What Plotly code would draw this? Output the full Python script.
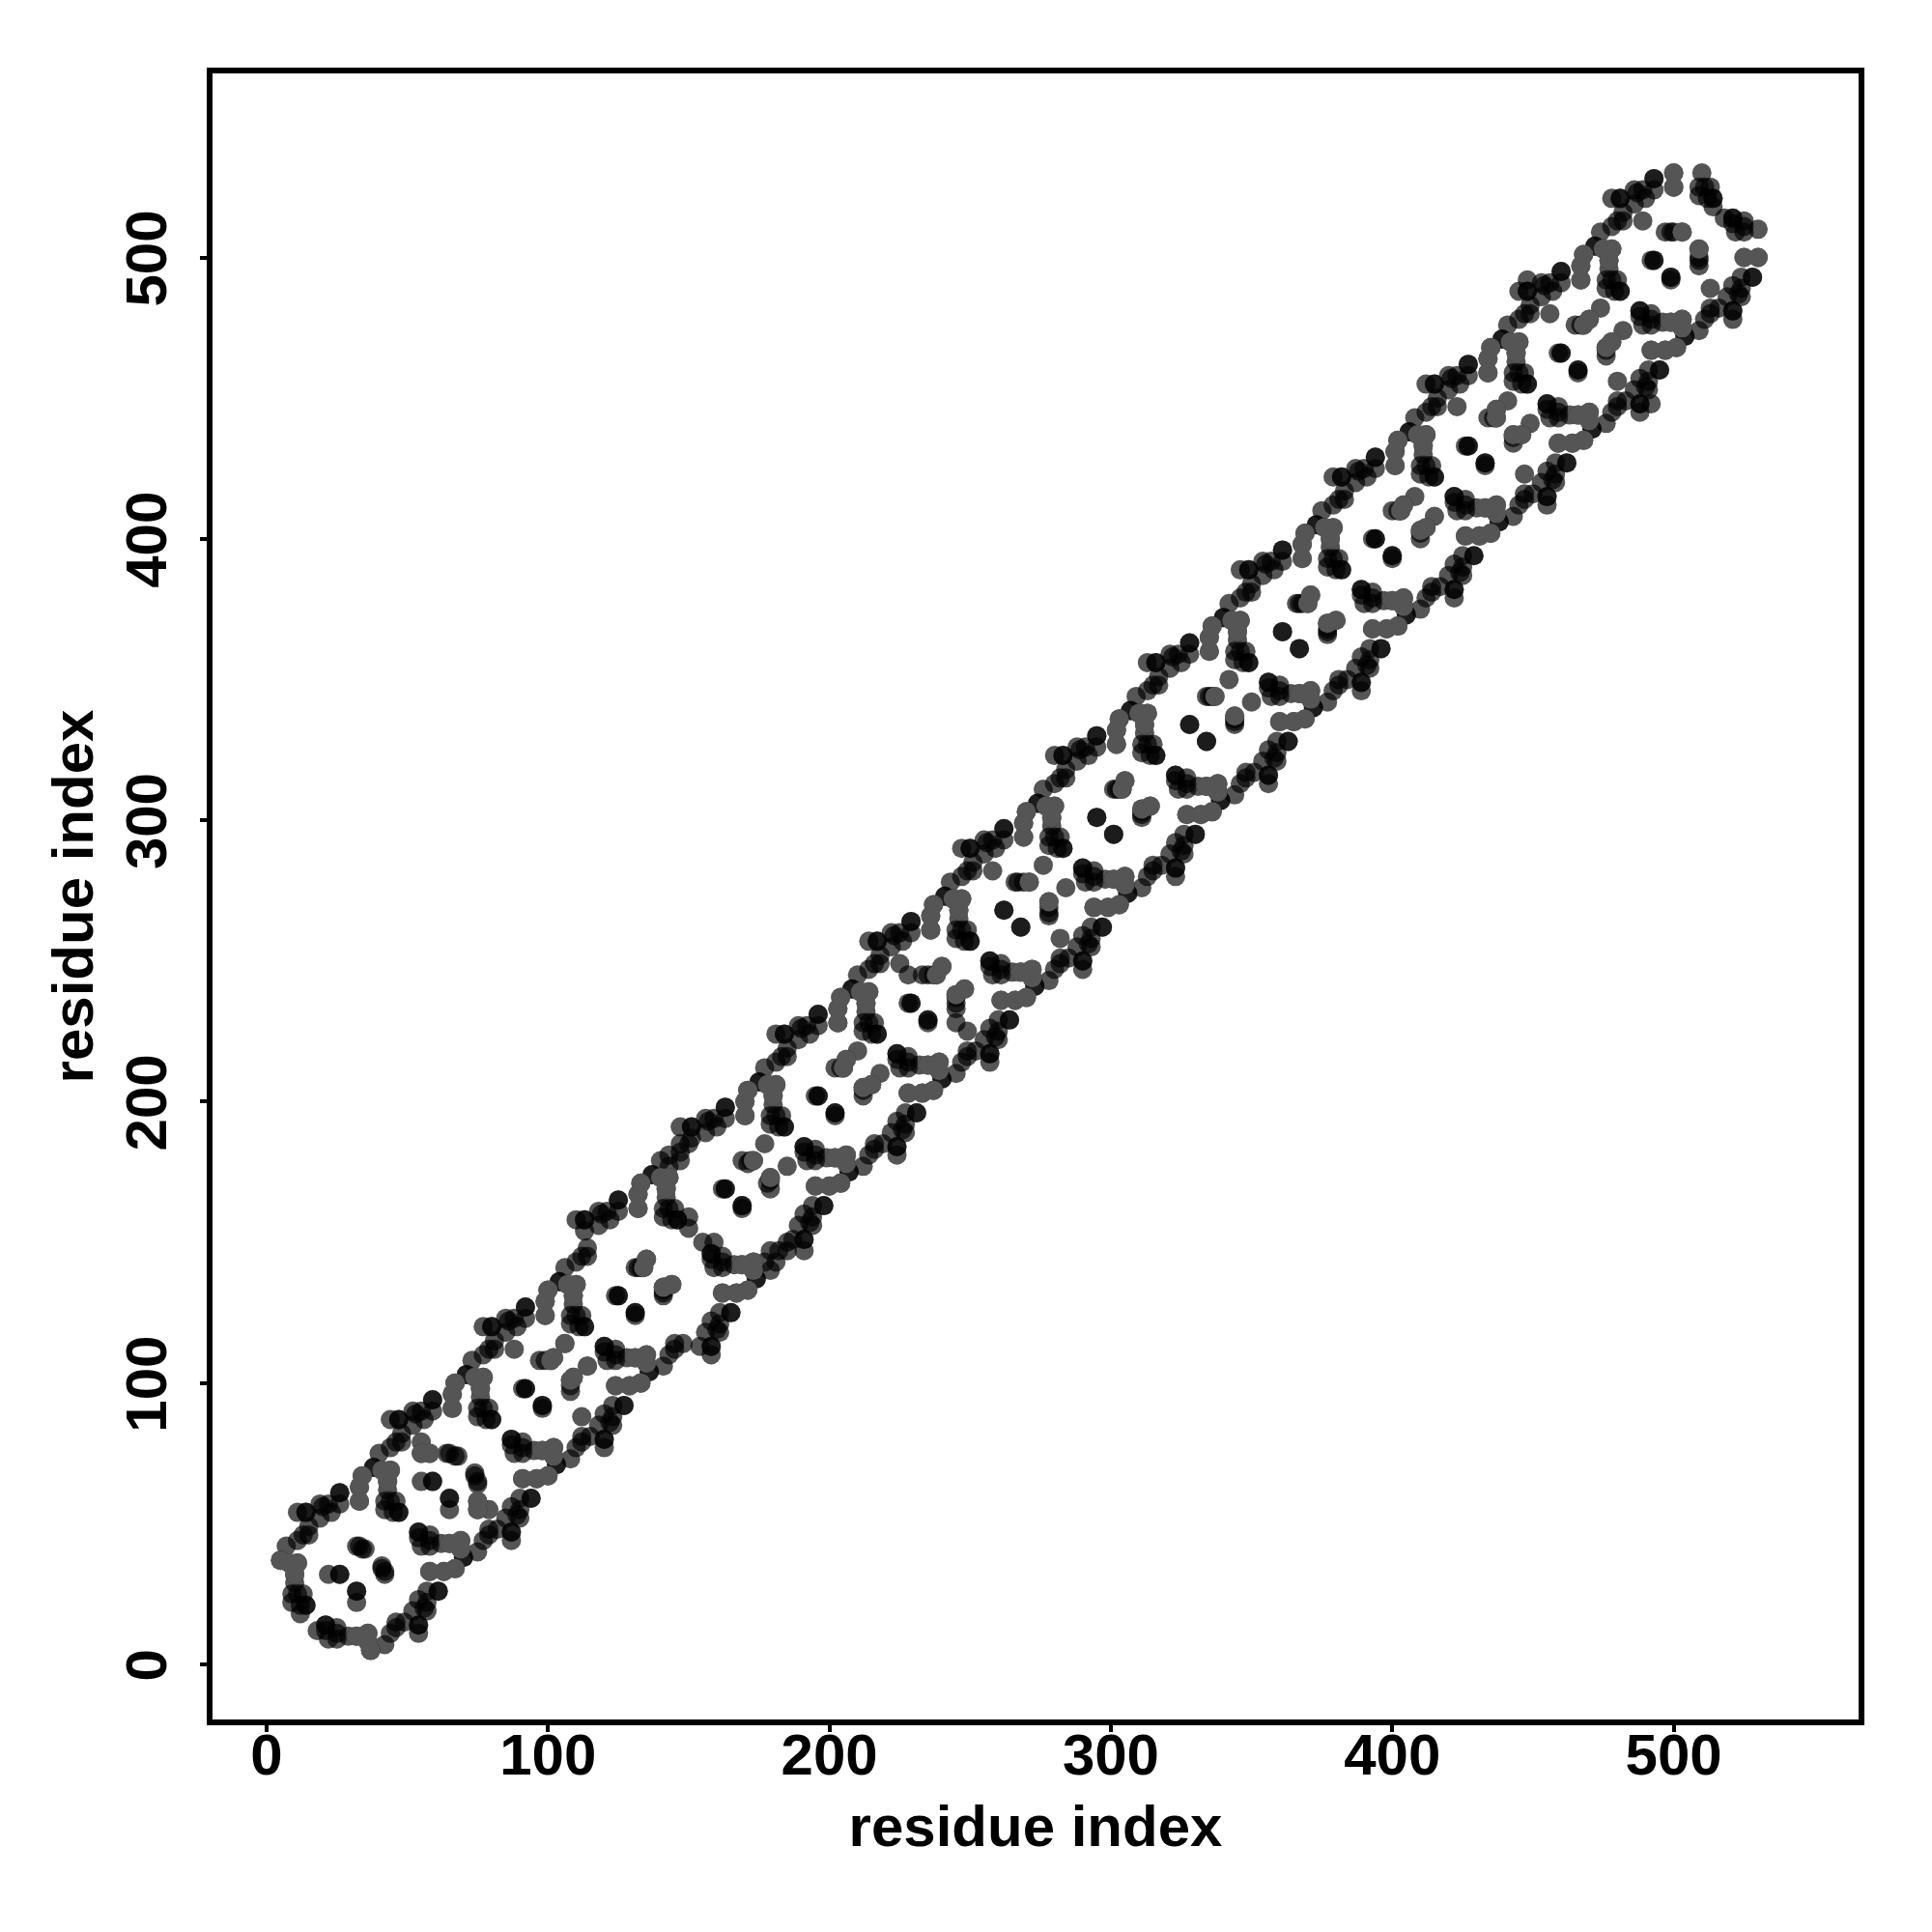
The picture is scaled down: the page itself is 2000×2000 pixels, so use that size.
import plotly.graph_objects as go

# Residue contacts: (i, j) with i < j. The map is symmetric, the mirror is drawn too.
ring_029_i = [5,5,8,11,10,10,9,11,13,14,14,9,12,12]
ring_029_j = [37,37,36,36,32,29,25,25,25,21,21,22,21,18]
ring_062_i = [7,11,13,15,15,11,14,14,19,19,20,22,23,26,26,26,33,33,34,38,38,41,44,43,43,42,44,46,47,47,42,45]
ring_062_j = [42,44,46,46,49,54,54,54,52,57,56,57,54,61,61,57,58,63,67,70,70,69,69,65,62,58,58,58,54,54,55,54]
ring_095_i = [40,44,46,48,48,44,47,47,52,52,53,55,56,59,59,59,66,66,67,71,71,74,77,76,76,75,77,79,80,80,75,78]
ring_095_j = [75,77,79,79,82,87,87,87,85,90,89,90,87,94,94,90,91,96,100,103,103,102,102,98,95,91,91,91,87,87,88,87]
ring_128_i = [73,77,79,81,81,77,80,80,85,85,86,88,89,92,92,92,99,99,100,104,104,107,110,109,109,108,110,112,113,113,108,111]
ring_128_j = [108,110,112,112,115,120,120,120,118,123,122,123,120,127,127,123,124,129,133,136,136,135,135,131,128,124,124,124,120,120,121,120]
ring_166_i = [106,110,112,114,114,113,110,113,113,118,118,119,121,122,125,125,125,132,132,133,137,137,140,143,142,142,141,143,145,146,146,141,144,150,150]
ring_166_j = [141,143,145,145,148,154,158,158,158,156,161,160,161,158,165,165,161,162,167,171,174,174,173,173,169,166,162,162,162,158,158,159,158,159,155]
ring_199_i = [140,143,143,147,147,147,150,151,147,151,151,156,156,157,159,160,163,163,163,170,170,171,175,175,178,181,180,180,179,181,183,184,184,179,182]
ring_199_j = [179,181,177,179,182,185,185,187,191,191,191,189,194,193,194,191,198,198,194,195,200,204,207,207,206,206,202,199,195,195,195,191,191,192,191]
ring_232_i = [177,181,183,185,185,181,184,184,189,189,190,192,193,196,196,196,203,203,204,208,208,211,214,213,213,212,214,216,217,217,212,215]
ring_232_j = [212,214,216,216,219,224,224,224,222,227,226,227,224,231,231,227,228,233,237,240,240,239,239,235,232,228,228,228,224,224,225,224]
ring_265_i = [210,214,216,218,218,214,217,217,222,222,223,225,226,229,229,229,236,236,237,241,241,244,247,246,246,245,247,249,250,250,245,248]
ring_265_j = [245,247,249,249,252,257,257,257,255,260,259,260,257,264,264,260,261,266,270,273,273,272,272,268,265,261,261,261,257,257,258,257]
ring_298_i = [243,247,249,251,251,247,250,250,255,255,256,258,259,262,262,262,269,269,270,274,274,277,280,279,279,278,280,282,283,283,278,281]
ring_298_j = [278,280,282,282,285,290,290,290,288,293,292,293,290,297,297,293,294,299,303,306,306,305,305,301,298,294,294,294,290,290,291,290]
ring_331_i = [276,280,282,284,284,280,283,283,288,288,289,291,292,295,295,295,302,302,303,307,307,310,313,312,312,311,313,315,316,316,311,314]
ring_331_j = [311,313,315,315,318,323,323,323,321,326,325,326,323,330,330,326,327,332,336,339,339,338,338,334,331,327,327,327,323,323,324,323]
ring_364_i = [309,313,315,317,317,313,316,316,321,321,322,324,325,328,328,328,335,335,336,340,340,343,346,345,345,344,346,348,349,349,344,347]
ring_364_j = [344,346,348,348,351,356,356,356,354,359,358,359,356,363,363,359,360,365,369,372,372,371,371,367,364,360,360,360,356,356,357,356]
ring_397_i = [342,346,348,350,350,346,349,349,354,354,355,357,358,361,361,361,368,368,369,373,373,376,379,378,378,377,379,381,382,382,377,380]
ring_397_j = [377,379,381,381,384,389,389,389,387,392,391,392,389,396,396,392,393,398,402,405,405,404,404,400,397,393,393,393,389,389,390,389]
ring_430_i = [375,379,381,383,383,379,382,382,387,387,388,390,391,394,394,394,401,401,402,406,406,409,412,411,411,410,412,414,415,415,410,413]
ring_430_j = [410,412,414,414,417,422,422,422,420,425,424,425,422,429,429,425,426,431,435,438,438,437,437,433,430,426,426,426,422,422,423,422]
ring_463_i = [408,412,414,416,416,412,415,415,420,420,421,423,424,427,427,427,434,434,435,439,439,442,445,444,444,443,445,447,448,448,443,446]
ring_463_j = [443,445,447,447,450,455,455,455,453,458,457,458,455,462,462,458,459,464,468,471,471,470,470,466,463,459,459,459,455,455,456,455]
ring_496_i = [441,445,447,449,449,445,448,448,448,453,453,454,456,457,460,460,460,467,467,468,472,472,475,478,477,477,476,478,480,481,481,476,479]
ring_496_j = [476,478,480,480,483,488,488,492,488,486,491,490,491,488,495,495,491,492,497,501,504,504,503,503,499,496,492,492,492,488,488,489,488]
ring_529_i = [474,478,480,482,482,478,481,481,486,486,487,489,490,493,493,493,500,500,510,509,511,513,514,514,509,512,514]
ring_529_j = [509,511,513,513,516,521,521,521,519,524,523,524,521,528,528,524,525,530,530,525,525,525,521,521,522,521,518]

inner_029_i = [22,26,26,32,33,34,35]
inner_029_j = [32,32,32,42,42,41,41]
inner_062_i = [55,55,58,59,59,55,64,65,67,68]
inner_062_j = [79,75,75,65,65,65,75,75,74,74]
inner_095_i = [88,91,92,92,97,99,101,102,106]
inner_095_j = [112,98,98,98,108,108,108,109,114]
inner_128_i = [124,125,125,131,132,133,134,135]
inner_128_j = [131,131,131,141,141,141,141,144]
inner_166_i = [162,163,163,169,171,172,173,177]
inner_166_j = [169,169,169,179,178,179,179,185]
inner_199_i = [195,196,196,202,204,205,206,210]
inner_199_j = [202,202,202,212,212,212,215,218]
inner_232_i = [228,229,229,233,235,237,238,240,225,228]
inner_232_j = [235,235,235,245,245,245,245,248,249,245]
inner_265_i = [262,262,266,267,269,271,276,258]
inner_265_j = [268,268,278,278,278,278,284,282]
inner_298_i = [295,295,301,302,303,304,305]
inner_298_j = [301,301,311,311,311,311,314]
inner_331_i = [328,328,334,335,336,337,342]
inner_331_j = [334,334,344,344,344,344,350]
inner_364_i = [361,361,366,367,368,370,371]
inner_364_j = [367,367,377,377,377,377,380]
inner_397_i = [393,394,394,400,402,403,404,408]
inner_397_j = [400,400,400,410,410,410,412,415]
inner_430_i = [426,427,427,434,436,437,437,441,423]
inner_430_j = [433,433,433,443,443,443,446,449,447]
inner_463_i = [459,460,460,465,467,468,470,474,456]
inner_463_j = [466,466,466,476,476,476,478,482,480]
inner_496_i = [492,493,493,497,499,500,503,489]
inner_496_j = [499,499,499,509,509,509,509,513]

# Contacts that sit on top in mid grey in the picture.
grey_strand_i = [5,8,11,10, 33,33,34,41,44,43, 66,66,67,74,77,76, 99,99,100,107,110,109,
                 132,132,133,140,143,142, 170,170,171,178,181,180, 203,203,204,211,214,213,
                 236,236,237,244,247,246, 269,269,270,277,280,279, 302,302,303,310,313,312,
                 335,335,336,343,346,345, 368,368,369,376,379,378, 401,401,402,409,412,411,
                 434,434,435,442,445,444, 467,467,468,475,478,477, 500,500]
grey_strand_j = [37,36,36,32, 58,63,67,69,69,65, 91,96,100,102,102,98, 124,129,133,135,135,131,
                 162,167,171,173,173,169, 195,200,204,206,206,202, 228,233,237,239,239,235,
                 261,266,270,272,272,268, 294,299,303,305,305,301, 327,332,336,338,338,334,
                 360,365,369,371,371,367, 393,398,402,404,404,400, 426,431,435,437,437,433,
                 459,464,468,470,470,466, 492,497,501,503,503,499, 525,530]
grey_inner_i = [55,58,101,102,106,134,135,173,205,206,238,240,271,304,305,337,370,371,403,404,437,437,468,470,503]
grey_inner_j = [75,75,108,109,114,141,144,179,212,215,245,248,278,311,314,344,377,380,410,412,443,446,476,478,509]

tick_values = [0, 100, 200, 300, 400, 500]
tick_labels = ["0", "100", "200", "300", "400", "500"]
axis_title = "residue index"

residue_i = (ring_029_i + ring_062_i + ring_095_i + ring_128_i + ring_166_i + ring_199_i + ring_232_i
             + ring_265_i + ring_298_i + ring_331_i + ring_364_i + ring_397_i + ring_430_i + ring_463_i
             + ring_496_i + ring_529_i + inner_029_i + inner_062_i + inner_095_i + inner_128_i + inner_166_i
             + inner_199_i + inner_232_i + inner_265_i + inner_298_i + inner_331_i + inner_364_i + inner_397_i
             + inner_430_i + inner_463_i + inner_496_i)
residue_j = (ring_029_j + ring_062_j + ring_095_j + ring_128_j + ring_166_j + ring_199_j + ring_232_j
             + ring_265_j + ring_298_j + ring_331_j + ring_364_j + ring_397_j + ring_430_j + ring_463_j
             + ring_496_j + ring_529_j + inner_029_j + inner_062_j + inner_095_j + inner_128_j + inner_166_j
             + inner_199_j + inner_232_j + inner_265_j + inner_298_j + inner_331_j + inner_364_j + inner_397_j
             + inner_430_j + inner_463_j + inner_496_j)
grey_i = grey_strand_i + grey_inner_i
grey_j = grey_strand_j + grey_inner_j

fig = go.Figure()
fig.add_trace(go.Scatter(
    x=residue_i + residue_j,
    y=residue_j + residue_i,
    mode="markers",
    marker=dict(size=20, color="rgba(0,0,0,0.667)", line=dict(width=0)),
    showlegend=False,
    hoverinfo="skip",
))
fig.add_trace(go.Scatter(
    x=grey_i + grey_j,
    y=grey_j + grey_i,
    mode="markers",
    marker=dict(size=20, color="rgb(85,85,85)", line=dict(width=0)),
    showlegend=False,
    hoverinfo="skip",
))

tick_font = dict(family="Liberation Sans", size=60, color="black", weight="bold")
title_font = dict(family="Liberation Sans", size=60, color="black", weight="bold")
axis = dict(
    tickmode="array", tickvals=tick_values, ticktext=tick_labels, tickfont=tick_font,
    ticks="outside", ticklen=7, tickwidth=4, tickcolor="black",
    showline=True, linecolor="black", linewidth=6, mirror=True,
    showgrid=False, zeroline=False,
)
fig.update_layout(
    width=2000, height=2000, autosize=False,
    paper_bgcolor="white", plot_bgcolor="white",
    margin=dict(l=220, r=76, t=76, b=220, autoexpand=False),
    xaxis=dict(axis, range=[-19.2, 565.7], ticklabelstandoff=-28,
               title=dict(text=axis_title, font=title_font, standoff=22)),
    yaxis=dict(axis, range=[-19.6, 565.4], tickangle=-90, ticklabelstandoff=11, ticklabelshift=10,
               title=dict(text=axis_title, font=title_font, standoff=4)),
)
fig.write_html("out.html", config={"displayModeBar": False},
               post_script="document.body.style.margin='0';")
